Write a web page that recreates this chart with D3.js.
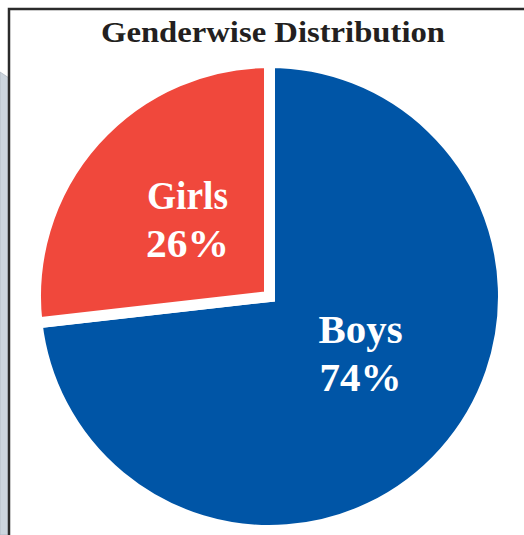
<!DOCTYPE html>
<html>
<head>
<meta charset="utf-8">
<script src="https://cdn.jsdelivr.net/npm/d3@7"></script>
<style>
  html, body { margin: 0; padding: 0; background: #fff; }
  svg { display: block; }
</style>
</head>
<body>
<div id="chart"></div>
<script>
const title = "Genderwise Distribution";
const categories = ["Boys", "Girls"];
const values = [73.2, 26.8];
const percentLabels = ["74%", "26%"];
const colors = ["#0055A6", "#F0483C"];

const W = 524, H = 535;
const svg = d3.select("#chart").append("svg").attr("width", W).attr("height", H);

// left grey panel strip
svg.append("path")
  .attr("d", "M0,72 L9,78 L9,535 L0,535 Z")
  .attr("fill", "#ccd5de")
  .attr("stroke", "#aeb8c2")
  .attr("stroke-width", 0.8);

// frame
svg.append("rect")
  .attr("x", 9).attr("y", 9)
  .attr("width", W + 20).attr("height", H + 20)
  .attr("fill", "#fff")
  .attr("stroke", "#2b2b2b")
  .attr("stroke-width", 2.5);

// title
svg.append("text")
  .attr("x", 273).attr("y", 42)
  .attr("text-anchor", "middle")
  .attr("font-family", "Liberation Serif, serif")
  .attr("font-weight", "bold")
  .attr("font-size", 29)
  .attr("fill", "#231f20")
  .attr("textLength", 344)
  .attr("lengthAdjust", "spacingAndGlyphs")
  .text(title);

const cx = 269.5, cy = 296.5, R = 234;
const g = svg.append("g").attr("transform", `translate(${cx},${cy})`);

const pie = d3.pie().sort(null).startAngle(0).endAngle(2 * Math.PI);
const arcs = pie(values);
const arc = d3.arc().innerRadius(0).outerRadius(R);

g.selectAll("path.slice")
  .data(arcs)
  .enter().append("path")
  .attr("class", "slice")
  .attr("d", arc)
  .attr("fill", (d, i) => colors[i])
  .attr("stroke", "#fff")
  .attr("stroke-width", 11)
  .attr("stroke-linejoin", "miter");

// labels
const labelArc = d3.arc().innerRadius(110).outerRadius(110);
const labelShift = [[9, -17], [0, -4]];
const nameWidth = [84, 81];
const pctWidth = [82, 83];
const lab = g.selectAll("text.lab")
  .data(arcs)
  .enter().append("text")
  .attr("class", "lab")
  .attr("text-anchor", "middle")
  .attr("font-family", "Liberation Serif, serif")
  .attr("font-weight", "bold")
  .attr("font-size", 40)
  .attr("fill", "#fff")
  .attr("transform", (d, i) => {
    const c = labelArc.centroid(d);
    return `translate(${c[0] + labelShift[i][0]},${c[1] + labelShift[i][1]})`;
  });
lab.append("tspan").attr("x", 0).attr("dy", -10)
  .attr("textLength", (d, i) => nameWidth[i]).attr("lengthAdjust", "spacingAndGlyphs")
  .text((d, i) => categories[i]);
lab.append("tspan").attr("x", 0).attr("dy", 48)
  .attr("textLength", (d, i) => pctWidth[i]).attr("lengthAdjust", "spacingAndGlyphs")
  .text((d, i) => percentLabels[i]);
</script>
</body>
</html>
